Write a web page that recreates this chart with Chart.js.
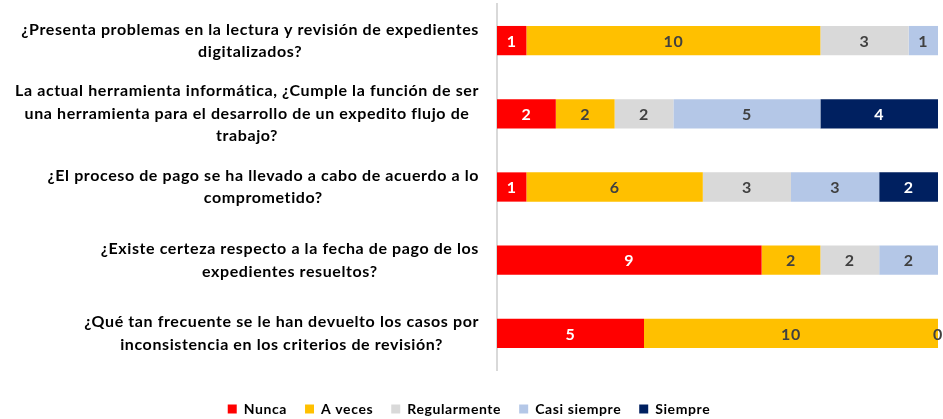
<!DOCTYPE html>
<html>
<head>
<meta charset="utf-8">
<script src="https://cdn.jsdelivr.net/npm/chart.js@4"></script>
<style>
  html, body { margin: 0; padding: 0; background: #fff; }
  #wrap { width: 943px; height: 419px; position: relative; }
</style>
</head>
<body>
<div id="wrap"><canvas id="surveyChart"></canvas></div>
<script>
// preguntas (cada una en varias lineas, como en el original)
const questions = [
    ['¿Presenta problemas en la lectura y revisión de expedientes', 'digitalizados?'],
    ['La actual herramienta informática, ¿Cumple la función de ser', 'una herramienta para el desarrollo de un expedito flujo de', 'trabajo?'],
    ['¿El proceso de pago se ha llevado a cabo de acuerdo a lo', 'comprometido?'],
    ['¿Existe certeza respecto a la fecha de pago de los', 'expedientes resueltos?'],
    ['¿Qué tan frecuente se le han devuelto los casos por', 'inconsistencia en los criterios de revisión?']
];

const nunca        = [1, 2, 1, 9, 5];
const aVeces       = [10, 2, 6, 2, 10];
const regularmente = [3, 2, 3, 2, 0];
const casiSiempre  = [1, 5, 3, 2, null];
const siempre      = [null, 4, 2, null, null];

const seriesNames = ['Nunca', 'A veces', 'Regularmente', 'Casi siempre', 'Siempre'];
const colors      = ['#FF0000', '#FFC000', '#D9D9D9', '#B4C7E7', '#002060'];
const labelColors = ['#FFFFFF', '#404040', '#404040', '#404040', '#FFFFFF'];

const FONT = 'Lato, "Open Sans", sans-serif';
const SPACING = '0.6px';

// espaciado de letras parecido al original
const letterSpacing = {
    id: 'letterSpacing',
    beforeInit(chart) { chart.ctx.letterSpacing = SPACING; },
    beforeUpdate(chart) { chart.ctx.letterSpacing = SPACING; },
    beforeDraw(chart) { chart.ctx.letterSpacing = SPACING; }
};

// etiquetas del eje y: cada bloque centrado sobre si mismo y pegado al eje
const questionLabels = {
    id: 'questionLabels',
    afterDraw(chart) {
        const ctx = chart.ctx;
        const yScale = chart.scales.y;
        const rightEdge = yScale.right - 18;
        const lineH = 22.5;
        ctx.save();
        ctx.font = 'bold 16px ' + FONT;
        ctx.fillStyle = '#000000';
        ctx.textAlign = 'center';
        ctx.textBaseline = 'middle';
        chart.data.labels.forEach((lines, i) => {
            const widest = Math.max(...lines.map(l => ctx.measureText(l).width));
            const cx = rightEdge - widest / 2;
            const cy = yScale.getPixelForTick(i);
            const top = cy - (lines.length - 1) * lineH / 2;
            lines.forEach((l, k) => ctx.fillText(l, cx, top + k * lineH));
        });
        ctx.restore();
    }
};

// etiquetas de valor dentro de cada segmento
const barValues = {
    id: 'barValues',
    afterDatasetsDraw(chart) {
        const ctx = chart.ctx;
        ctx.save();
        ctx.font = 'bold 16px ' + FONT;
        ctx.textAlign = 'center';
        ctx.textBaseline = 'middle';
        chart.data.datasets.forEach((ds, i) => {
            const meta = chart.getDatasetMeta(i);
            meta.data.forEach((bar, j) => {
                const v = ds.data[j];
                if (v === null || v === undefined) return;
                const x = (bar.x + bar.base) / 2;
                ctx.fillStyle = labelColors[i];
                ctx.fillText(String(v), x, bar.y + 1);
            });
        });
        ctx.restore();
    }
};

const allSeries = [nunca, aVeces, regularmente, casiSiempre, siempre];

const ctx = document.getElementById('surveyChart').getContext('2d');
const surveyChart = new Chart(ctx, {
    type: 'bar',
    data: {
        labels: questions,
        datasets: allSeries.map((vals, i) => ({
            label: seriesNames[i],
            data: vals,
            backgroundColor: colors[i],
            borderWidth: 0,
            barPercentage: 1,
            categoryPercentage: 0.4
        }))
    },
    options: {
        indexAxis: 'y',
        responsive: true,
        maintainAspectRatio: false,
        animation: false,
        layout: {
            padding: { top: 4, right: 5, bottom: -7, left: 0 }
        },
        scales: {
            x: {
                stacked: true,
                min: 0,
                max: 15,
                grid: { display: false },
                border: { display: false },
                ticks: { display: false },
                afterFit: function(axis) {
                    axis.height = 14;
                }
            },
            y: {
                stacked: true,
                grid: { display: false, drawTicks: false },
                border: { display: true, color: '#D9D9D9', width: 2 },
                ticks: { display: false },
                afterFit: function(axis) {
                    axis.width = 497;
                    axis.paddingTop = 0;
                    axis.paddingBottom = 0;
                }
            }
        },
        plugins: {
            legend: {
                position: 'bottom',
                labels: {
                    boxWidth: 9,
                    boxHeight: 9,
                    padding: 18,
                    color: '#000000',
                    font: { family: FONT, size: 14, weight: 'bold' }
                }
            },
            tooltip: { enabled: false }
        }
    },
    plugins: [letterSpacing, questionLabels, barValues]
});
</script>
</body>
</html>
